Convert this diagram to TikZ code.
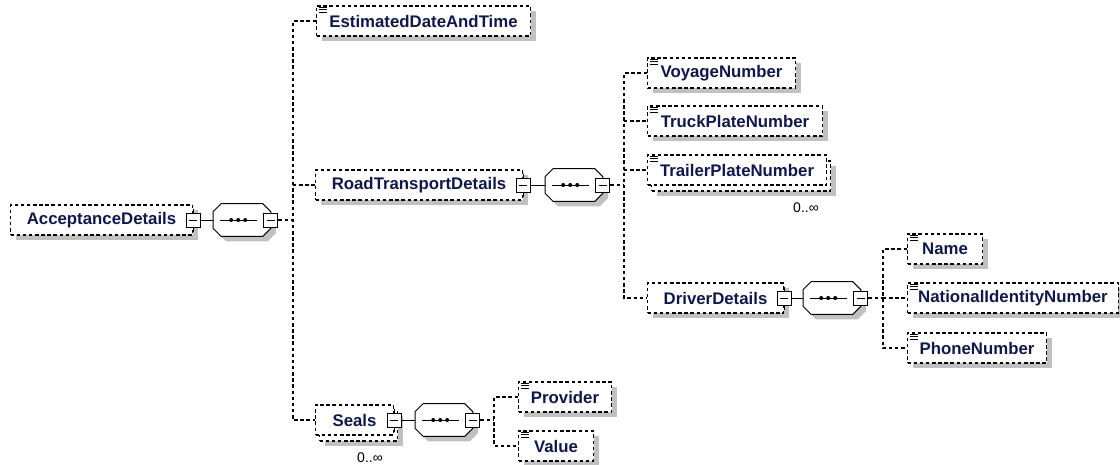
\documentclass[tikz,border=0pt]{standalone}
\usepackage{fontspec}
\setmainfont{Liberation Sans}
\usetikzlibrary{shadows}
\definecolor{elname}{RGB}{16,24,72}
\definecolor{shade}{RGB}{192,192,192}
\tikzset{
  conn/.style={line width=0.8pt, dash pattern=on 2.6pt off 2pt},
  elem/.style={rectangle, draw, line width=0.8pt, dash pattern=on 2.6pt off 2pt,
    fill=white, minimum height=22.5pt, inner xsep=8pt, anchor=west, text=elname,
    font=\fontsize{12.6pt}{14pt}\selectfont\bfseries},
  single/.style={elem, general shadow={fill=shade, shadow xshift=3.75pt, shadow yshift=-3.75pt}},
  multi/.style={elem, general shadow={fill=shade, shadow xshift=6.75pt, shadow yshift=-8.25pt},
    general shadow={fill=white, draw, line width=0.8pt, dash pattern=on 2.6pt off 2pt,
      shadow xshift=3pt, shadow yshift=-4.5pt}},
  seq/.style={rectangle, minimum width=43pt, minimum height=24pt, inner sep=0pt, anchor=west},
  octa/.style={draw, solid, line width=0.75pt, fill=white,
    general shadow={fill=shade, shadow xshift=3.75pt, shadow yshift=-3.75pt}},
  mbox/.style={rectangle, draw, solid, line width=0.75pt, fill=white, minimum size=10.5pt, inner sep=0pt,
    path picture={\draw[line width=0.75pt] ([xshift=2pt]path picture bounding box.west)
      -- ([xshift=-2pt]path picture bounding box.east);}},
  occurs/.style={font=\fontsize{10.5pt}{12pt}\selectfont}
}
\begin{document}
\begin{tikzpicture}[x=0.75pt, y=-0.75pt]
  \useasboundingbox (0,0) rectangle (1120,464);

  % elements
  \node[single, minimum width=136.5pt] (AD) at (10,220) {AcceptanceDetails};
  \node[single, minimum width=160.5pt] (EDT) at (316,21) {EstimatedDateAndTime};
  \node[single, minimum width=155.25pt] (RTD) at (315,185) {RoadTransportDetails};
  \node[multi, minimum width=58.5pt] (Seals) at (315,420) {Seals};
  \node[single, minimum width=111pt] (Voyage) at (647,73) {VoyageNumber};
  \node[single, minimum width=131.25pt] (Truck) at (647,121) {TruckPlateNumber};
  \node[multi, minimum width=134.25pt] (Trailer) at (647,170) {TrailerPlateNumber};
  \node[single, minimum width=102pt] (DD) at (647,298) {DriverDetails};
  \node[single, minimum width=56.25pt] (Name) at (907,249) {Name};
  \node[single, minimum width=157.5pt] (NIN) at (907,298) {NationalIdentityNumber};
  \node[single, minimum width=104.25pt] (Phone) at (907,348) {PhoneNumber};
  \node[single, minimum width=69.75pt] (Provider) at (518,397) {Provider};
  \node[single, minimum width=56.25pt] (Value) at (518,446) {Value};

  \node[occurs] (Trailer-occ) at (806,208) {0..∞};
  \node[occurs] (Seals-occ) at (370,458) {0..∞};

  % sequences
  \node[seq] (seqA) at (213,220) {};
  \node[seq] (seqB) at (545,185) {};
  \node[seq] (seqC) at (803,298) {};
  \node[seq] (seqD) at (415,420) {};

  \foreach \s in {seqA,seqB,seqC,seqD} {
    \draw[octa] ([xshift=6pt]\s.north west) -- ([xshift=-6pt]\s.north east)
      -- ([yshift=-6pt]\s.north east) -- ([yshift=6pt]\s.south east)
      -- ([xshift=-6pt]\s.south east) -- ([xshift=6pt]\s.south west)
      -- ([yshift=6pt]\s.south west) -- ([yshift=-6pt]\s.north west) -- cycle;
    \draw[line width=0.75pt] ([xshift=5.25pt]\s.west) -- ([xshift=-10.5pt]\s.east);
    \foreach \d in {13.65,18.9,24.15}
      \fill ([xshift=\d pt]\s.west) circle (1.5pt);
    \node[mbox] (\s-m) at (\s.east) {};
  }

  % collapse buttons
  \foreach \n in {AD,RTD,DD,Seals} {
    \node[mbox] (\n-m) at (\n.east) {};
    \draw[line width=0.75pt] ([yshift=3pt]\n-m.north) -- (\n-m.north)
      ([yshift=-3pt]\n-m.south) -- (\n-m.south);
  }

  % element icons
  \foreach \n in {EDT,Voyage,Truck,Trailer,Name,NIN,Phone,Provider,Value}
    \foreach \k in {1.5,3.25,5}
      \draw[line width=0.6pt] ([xshift=2.25pt,yshift=-\k pt]\n.north west) -- ++(6pt,0);

  % tree connectors
  \coordinate (tA) at (293,220);
  \coordinate (tB) at (624,185);
  \coordinate (tC) at (883,298);
  \coordinate (tD) at (494,420);

  \draw[line width=0.75pt] (AD-m) -- (seqA);
  \draw[conn] (seqA-m) -- (tA);
  \draw[conn] (EDT.west) -| (tA) |- (Seals.west);
  \draw[conn] (tA |- RTD.west) -- (RTD.west);

  \draw[line width=0.75pt] (RTD-m) -- (seqB);
  \draw[conn] (seqB-m) -- (tB);
  \draw[conn] (Voyage.west) -| (tB) |- (DD.west);
  \draw[conn] (tB |- Truck.west) -- (Truck.west);
  \draw[conn] (tB |- Trailer.west) -- (Trailer.west);

  \draw[line width=0.75pt] (DD-m) -- (seqC);
  \draw[conn] (seqC-m) -- (tC);
  \draw[conn] (Name.west) -| (tC) |- (Phone.west);
  \draw[conn] (tC) -- (NIN.west);

  \draw[line width=0.75pt] (Seals-m) -- (seqD);
  \draw[conn] (seqD-m) -- (tD);
  \draw[conn] (Provider.west) -| (tD) |- (Value.west);
\end{tikzpicture}
\end{document}
